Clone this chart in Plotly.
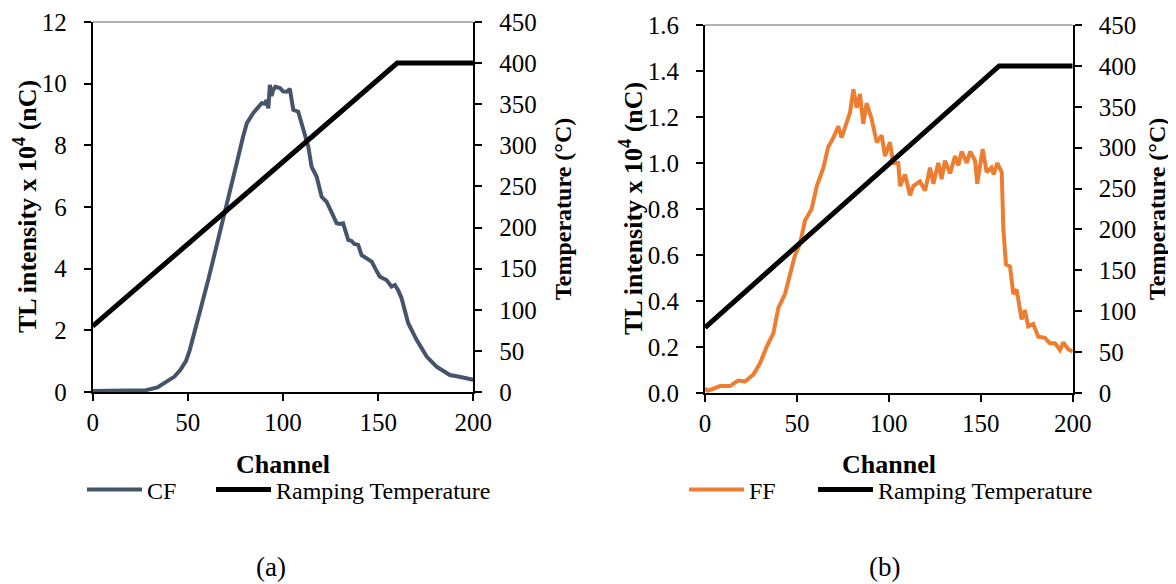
import plotly.graph_objects as go

# ---------------- data ----------------
cf_channel = [0, 10, 20, 28, 34, 39, 43, 46, 49, 51, 53, 55.5, 58, 60.7, 63, 65, 67, 68.6, 70, 72,
              74, 76.5, 79, 81, 84.4, 88.8, 90.5, 91.4, 92.3, 93.1, 94, 94.9, 96, 98.4, 100, 101.9,
              103.6, 105.4, 108, 110.6, 113.3, 115, 117.7, 120.3, 122.9, 125, 128.2, 130, 131.6,
              134.3, 136, 137.5, 139.5, 141.3, 144, 146.6, 148.5, 150.9, 154.4, 157, 158.8, 160.5,
              162.3, 165.8, 170.2, 175.5, 180.7, 184, 187.7, 192, 196, 200]
cf_values = [0.03, 0.03, 0.04, 0.06, 0.15, 0.33, 0.5, 0.71, 1.0, 1.36, 1.8, 2.44, 3.0, 3.63, 4.2,
             4.71, 5.2, 5.58, 6.0, 6.4, 6.9, 7.63, 8.28, 8.72, 9.05, 9.37, 9.35, 9.47, 9.2, 9.96,
             9.6, 9.8, 9.9, 9.86, 9.75, 9.74, 9.83, 9.15, 9.09, 8.5, 7.96, 7.31, 6.98, 6.33, 6.17,
             5.9, 5.47, 5.45, 5.47, 4.93, 4.9, 4.8, 4.77, 4.44, 4.35, 4.23, 4.0, 3.74, 3.63, 3.42,
             3.47, 3.3, 3.04, 2.23, 1.69, 1.15, 0.82, 0.68, 0.55, 0.5, 0.45, 0.4]

ff_channel = [0, 1.5, 5, 8.2, 13.6, 18, 21.8, 26.3, 30, 33.5, 37.2, 39.9, 43.5, 46.2, 49, 51.7,
              54.4, 58, 60.8, 64.4, 67, 69.8, 72.5, 74.3, 77, 78.9, 80.7, 82.5, 84.3, 86.1, 87.9,
              90.7, 93.4, 96.1, 97.9, 100.6, 102.4, 105.1, 106.1, 108.8, 111.5, 113.3, 116.9,
              119.7, 122.4, 124.2, 126.9, 128.7, 130.5, 133.3, 136, 137.8, 139.6, 142.4, 144.2,
              146.9, 148.1, 151, 153.2, 155.8, 157, 159, 161.4, 162.3, 163.7, 165.9, 167.7, 169.5,
              172.2, 174, 175.8, 178.5, 181.3, 184.9, 187.6, 190.4, 193.1, 194.9, 197.6, 200]
ff_values = [0.02, 0.01, 0.02, 0.03, 0.03, 0.054, 0.05, 0.08, 0.13, 0.2, 0.26, 0.37, 0.43, 0.51,
             0.6, 0.65, 0.75, 0.8, 0.9, 0.98, 1.07, 1.11, 1.16, 1.11, 1.18, 1.22, 1.32, 1.24, 1.3,
             1.17, 1.26, 1.19, 1.09, 1.12, 1.03, 1.09, 1.0, 1.0, 0.9, 0.95, 0.86, 0.9, 0.92, 0.88,
             0.98, 0.91, 1.0, 0.93, 1.01, 0.955, 1.03, 0.99, 1.05, 1.0, 1.05, 1.01, 0.91, 1.06,
             0.96, 0.98, 0.95, 1.0, 0.96, 0.71, 0.56, 0.55, 0.43, 0.45, 0.32, 0.36, 0.29, 0.3,
             0.245, 0.24, 0.216, 0.216, 0.187, 0.22, 0.19, 0.18]

temp_channel = [0, 160, 200]
temp_values = [80, 400, 400]

x_ticks = [0, 50, 100, 150, 200]
temp_ticks = [0, 50, 100, 150, 200, 250, 300, 350, 400, 450]
cf_ticks = [0, 2, 4, 6, 8, 10, 12]
ff_ticks = [0.0, 0.2, 0.4, 0.6, 0.8, 1.0, 1.2, 1.4, 1.6]

# ---------------- layout helpers ----------------
W, H = 1176, 584
OFF = 8  # page body margin of the rendered html
FONT = "Liberation Serif"
def px(x):
    return (x - OFF) / W
def py(y):
    return 1 - (y - OFF) / H

L_X = [px(92.7), px(473.3)]
L_Y = [py(392), py(22)]
R_X = [px(705), px(1072.7)]
R_Y = [py(393), py(25)]

CF_COLOR = "#44546A"
FF_COLOR = "#ED7D31"

fig = go.Figure()
fig.add_trace(go.Scatter(x=cf_channel, y=cf_values, mode="lines", name="CF",
                         line=dict(color=CF_COLOR, width=4), xaxis="x", yaxis="y", legend="legend"))
fig.add_trace(go.Scatter(x=temp_channel, y=temp_values, mode="lines", name="Ramping Temperature",
                         line=dict(color="black", width=5), xaxis="x", yaxis="y2", legend="legend2"))
fig.add_trace(go.Scatter(x=ff_channel, y=ff_values, mode="lines", name="FF",
                         line=dict(color=FF_COLOR, width=4), xaxis="x3", yaxis="y3", legend="legend3"))
fig.add_trace(go.Scatter(x=temp_channel, y=temp_values, mode="lines", name="Ramping Temperature",
                         line=dict(color="black", width=5), xaxis="x3", yaxis="y4", legend="legend4"))

axis_common = dict(showgrid=False, zeroline=False, showline=True, linecolor="black", linewidth=2,
                   ticks="outside", ticklen=7, tickwidth=2, tickcolor="black", automargin=False,
                   tickfont=dict(family=FONT, size=25, color="black"))
y_common = dict(ticklabelstandoff=12, **axis_common)

legend_common = dict(orientation="h", xanchor="left", yanchor="middle",
                     bgcolor="rgba(0,0,0,0)", font=dict(family=FONT, size=24, color="black"),
                     itemwidth=55, tracegroupgap=0)
LEG_Y = py(490)

fig.update_layout(
    width=W, height=H, autosize=False,
    margin=dict(l=0, r=0, t=0, b=0, pad=0, autoexpand=False),
    paper_bgcolor="white", plot_bgcolor="white",
    font=dict(family=FONT, color="black"),
    xaxis=dict(domain=L_X, anchor="y", range=[0, 200], tickvals=x_ticks, **axis_common),
    yaxis=dict(domain=L_Y, anchor="x", range=[0, 12], tickvals=cf_ticks, **y_common),
    yaxis2=dict(domain=L_Y, anchor="x", overlaying="y", side="right", range=[0, 450],
                tickvals=temp_ticks, **y_common),
    xaxis3=dict(domain=R_X, anchor="y3", range=[0, 200], tickvals=x_ticks, **axis_common),
    yaxis3=dict(domain=R_Y, anchor="x3", range=[0, 1.6], tickvals=ff_ticks, tickformat=".1f",
                **y_common),
    yaxis4=dict(domain=R_Y, anchor="x3", overlaying="y3", side="right", range=[0, 450],
                tickvals=temp_ticks, **y_common),
    legend=dict(x=px(82), y=LEG_Y, **legend_common),
    legend2=dict(x=px(211), y=LEG_Y, **legend_common),
    legend3=dict(x=px(684), y=LEG_Y, **legend_common),
    legend4=dict(x=px(813), y=LEG_Y, **legend_common),
    showlegend=True,
)

# top border lines of the plot areas
for xd, yd in [(L_X, L_Y), (R_X, R_Y)]:
    fig.add_shape(type="line", xref="paper", yref="paper", x0=xd[0], x1=xd[1], y0=yd[1], y1=yd[1],
                  line=dict(color="#666666", width=1))

ann = [
    dict(x=px(26), y=py(207), text="<b>TL intensity x 10<sup>4</sup> (nC)</b>", textangle=-90, size=26),
    dict(x=px(563), y=py(209), text="<b>Temperature (°C)</b>", textangle=-90, size=24),
    dict(x=px(631), y=py(209), text="<b>TL intensity x 10<sup>4</sup> (nC)</b>", textangle=-90, size=26),
    dict(x=px(1157), y=py(209), text="<b>Temperature (°C)</b>", textangle=-90, size=24),
    dict(x=px(283), y=py(464), text="<b>Channel</b>", textangle=0, size=26),
    dict(x=px(889), y=py(464), text="<b>Channel</b>", textangle=0, size=26),
]
for a in ann:
    fig.add_annotation(xref="paper", yref="paper", showarrow=False, xanchor="center",
                       yanchor="middle", x=a["x"], y=a["y"], text=a["text"],
                       textangle=a["textangle"],
                       font=dict(family=FONT, size=a["size"], color="black"))
for x, t in [(271, "(a)"), (884, "(b)")]:
    fig.add_annotation(xref="paper", yref="paper", x=px(x), y=py(567), text=t, showarrow=False,
                       xanchor="center", yanchor="middle",
                       font=dict(family=FONT, size=27, color="black"))

fig.write_html("out.html")
